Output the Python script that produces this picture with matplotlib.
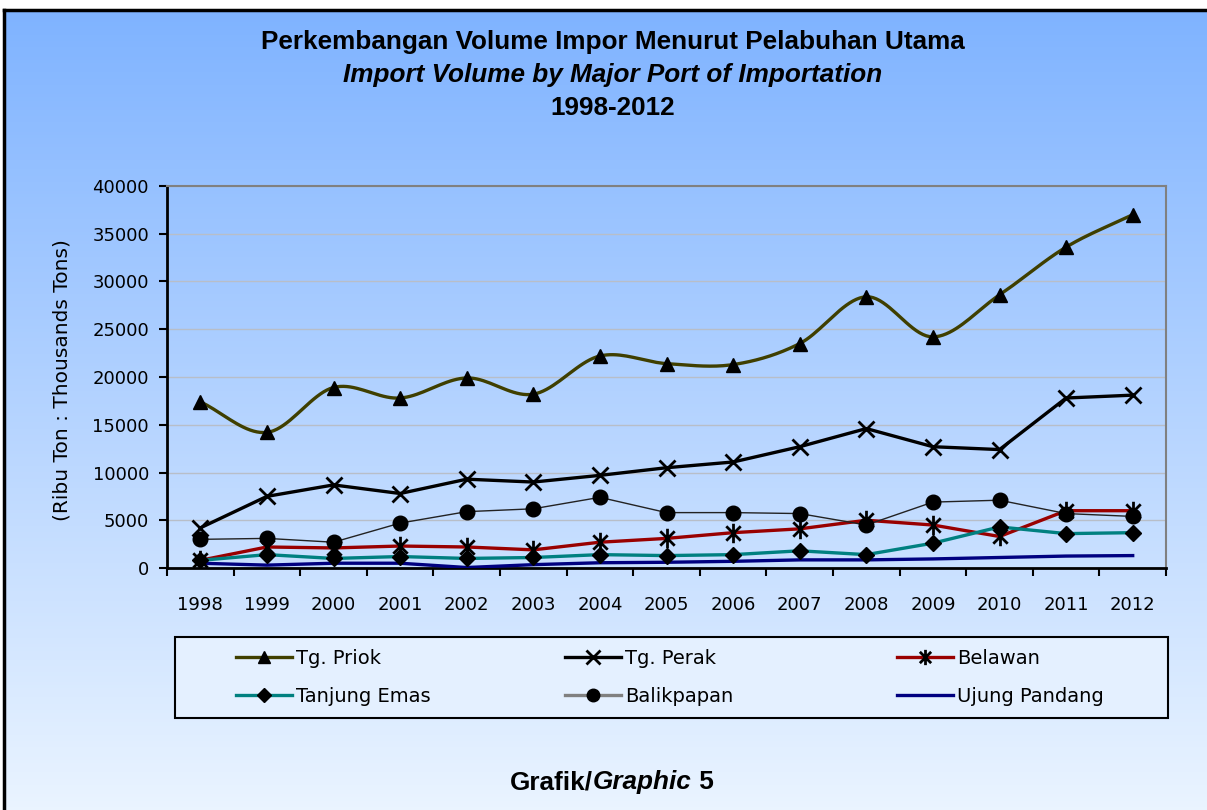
import numpy as np
import matplotlib
matplotlib.use("Agg")
import matplotlib.pyplot as plt
from matplotlib.path import Path
from matplotlib.lines import Line2D
from matplotlib.patches import Rectangle
from matplotlib.offsetbox import TextArea, HPacker, AnchoredOffsetbox
from matplotlib import font_manager

years = [1998, 1999, 2000, 2001, 2002, 2003, 2004, 2005, 2006, 2007, 2008, 2009, 2010, 2011, 2012]
tg_priok = [17400, 14200, 18900, 17800, 19900, 18200, 22200, 21400, 21300, 23500, 28400, 24200, 28600, 33600, 37000]
tg_perak = [4200, 7500, 8700, 7800, 9300, 9000, 9700, 10500, 11100, 12700, 14600, 12700, 12400, 17800, 18100]
belawan = [800, 2200, 2100, 2300, 2200, 1900, 2700, 3100, 3700, 4100, 5000, 4500, 3300, 6000, 6000]
tanjung_emas = [800, 1400, 1000, 1200, 1000, 1100, 1400, 1300, 1400, 1800, 1400, 2600, 4300, 3600, 3700]
balikpapan = [3000, 3100, 2700, 4700, 5900, 6200, 7400, 5800, 5800, 5700, 4500, 6900, 7100, 5700, 5400]
ujung_pandang = [500, 300, 500, 500, 50, 350, 550, 600, 700, 850, 850, 950, 1100, 1250, 1300]
y_ticks = [0, 5000, 10000, 15000, 20000, 25000, 30000, 35000, 40000]

avail = {f.name for f in font_manager.fontManager.ttflist}
narrow = "Liberation Sans Narrow" if "Liberation Sans Narrow" in avail else "Liberation Sans"
body = "DejaVu Sans"

W, H = 1207, 810
fig = plt.figure(figsize=(W / 100, H / 100), dpi=100, facecolor="white")

# background gradient panel
bg = fig.add_axes([4 / W, 0, 1 - 4 / W, 1 - 10 / H])
grad = np.linspace(0, 1, 256).reshape(-1, 1)
top = np.array([0x7f, 0xb3, 0xff]) / 255
bot = np.array([0xea, 0xf4, 0xff]) / 255
img = top[None, None, :] * (1 - grad[:, :, None]) + bot[None, None, :] * grad[:, :, None]
bg.imshow(img, aspect="auto", extent=[0, 1, 0, 1], origin="upper")
bg.set_xlim(0, 1); bg.set_ylim(0, 1)
bg.set_xticks([]); bg.set_yticks([])
for s in ["left", "top"]:
    bg.spines[s].set_linewidth(2.5)
    bg.spines[s].set_color("black")
for s in ["right", "bottom"]:
    bg.spines[s].set_visible(False)
bg.set_zorder(0)

ax = fig.add_axes([167 / W, 1 - 568 / H, (1166 - 167) / W, (568 - 186) / H])
ax.set_facecolor("none")
ax.set_zorder(1)
x = np.arange(len(years))


def catmull(xs, ys, n=20):
    xs = np.asarray(xs, float); ys = np.asarray(ys, float)
    px = np.concatenate([[2 * xs[0] - xs[1]], xs, [2 * xs[-1] - xs[-2]]])
    py = np.concatenate([[2 * ys[0] - ys[1]], ys, [2 * ys[-1] - ys[-2]]])
    ox, oy = [], []
    t = np.linspace(0, 1, n, endpoint=False)
    for i in range(1, len(px) - 2):
        for arr, out in ((px, ox), (py, oy)):
            p0, p1, p2, p3 = arr[i - 1], arr[i], arr[i + 1], arr[i + 2]
            out.extend(0.5 * ((2 * p1) + (-p0 + p2) * t + (2 * p0 - 5 * p1 + 4 * p2 - p3) * t ** 2
                               + (-p0 + 3 * p1 - 3 * p2 + p3) * t ** 3))
    ox.append(xs[-1]); oy.append(ys[-1])
    return np.array(ox), np.array(oy)


ast = Path([(-1, -1), (1, 1), (-1, 1), (1, -1), (0, -1.35), (0, 1.35)],
           [Path.MOVETO, Path.LINETO, Path.MOVETO, Path.LINETO, Path.MOVETO, Path.LINETO])

c_priok = "#3f3f00"
sx, sy = catmull(x, tg_priok)
ax.plot(sx, sy, color=c_priok, lw=2.4, zorder=3)
ax.plot(x, tg_priok, ls="none", marker="^", ms=9.5, color="black", zorder=4)
ax.plot(x, tg_perak, color="black", lw=2.4, marker="x", ms=12, mew=2, zorder=4)
ax.plot(x, belawan, color="#990000", lw=2.4, marker=ast, ms=14, mew=2, mec="black", zorder=4)
ax.plot(x, tanjung_emas, color="#008080", lw=2.4, marker="D", ms=8, mfc="black", mec="black", zorder=4)
ax.plot(x, balikpapan, color="#222222", lw=1.0, marker="o", ms=10.5, mfc="black", mec="black", zorder=4)
ax.plot(x, ujung_pandang, color="#000080", lw=2.4, zorder=3)

ax.set_xlim(-0.5, len(years) - 0.5)
ax.set_ylim(0, 40000)
ax.set_yticks(y_ticks)
ax.set_yticklabels([str(v) for v in y_ticks], fontsize=13, family=body)
ax.set_xticks(np.arange(len(years) + 1) - 0.5, minor=False)
ax.set_xticklabels([])
ax.set_xticks(x, minor=True)
ax.set_xticklabels([str(y) for y in years], minor=True, fontsize=13, family=body)
ax.tick_params(axis="x", which="major", length=6, width=1.5, direction="out")
ax.tick_params(axis="x", which="minor", length=0, pad=20)
ax.tick_params(axis="y", length=6, width=1.5, direction="out", pad=7)
ax.grid(axis="y", color="#b8bec8", lw=1, zorder=0)
ax.set_axisbelow(True)
for s in ["left", "bottom"]:
    ax.spines[s].set_linewidth(2)
    ax.spines[s].set_color("black")
for s in ["top", "right"]:
    ax.spines[s].set_linewidth(1.5)
    ax.spines[s].set_color("#808080")
fig.text(62 / W, 1 - 380 / H, "(Ribu Ton : Thousands Tons)", rotation=90, ha="center", va="center",
         fontsize=14.5, family=body)

fig.text(613 / W, 1 - 42 / H, "Perkembangan Volume Impor Menurut Pelabuhan Utama", ha="center", va="center",
         fontsize=18.8, fontweight="bold", family=narrow)
fig.text(613 / W, 1 - 75 / H, "Import Volume by Major Port of Importation", ha="center", va="center",
         fontsize=18.8, fontweight="bold", style="italic", family=narrow)
fig.text(613 / W, 1 - 108 / H, "1998-2012", ha="center", va="center",
         fontsize=18.8, fontweight="bold", family=narrow)

tp = dict(fontsize=18.8, fontweight="bold", family=narrow)
parts = [TextArea("Grafik/", textprops=tp),
         TextArea("Graphic", textprops=dict(style="italic", **tp)),
         TextArea(" 5", textprops=tp)]
pack = HPacker(children=parts, align="baseline", pad=0, sep=0)
ab = AnchoredOffsetbox(loc="center", child=pack, frameon=False, pad=0, borderpad=0,
                       bbox_to_anchor=(612 / W, 1 - 782 / H), bbox_transform=fig.transFigure)
fig.add_artist(ab)

# legend box
fig.add_artist(Rectangle((175 / W, 1 - 718 / H), (1168 - 175) / W, (718 - 637) / H,
                         transform=fig.transFigure, facecolor="#e4f0ff", edgecolor="black", lw=1.5, zorder=4))
h_priok = Line2D([], [], color=c_priok, lw=2.4, marker="^", ms=8, mfc="black", mec="black")
h_perak = Line2D([], [], color="black", lw=2.4, marker="x", ms=10, mew=2)
h_bel = Line2D([], [], color="#990000", lw=2.4, marker=ast, ms=11, mew=2, mec="black")
h_emas = Line2D([], [], color="#008080", lw=2.4, marker="D", ms=7, mfc="black", mec="black")
h_bal = Line2D([], [], color="#808080", lw=2.4, marker="o", ms=9, mfc="black", mec="black")
h_up = Line2D([], [], color="#000080", lw=2.4)
cols = [([h_priok, h_emas], ["Tg. Priok", "Tanjung Emas"], 236),
        ([h_perak, h_bal], ["Tg. Perak", "Balikpapan"], 565),
        ([h_bel, h_up], ["Belawan", "Ujung Pandang"], 897)]
for hs, ls, xpx in cols:
    lg = fig.legend(hs, ls, loc="center left", bbox_to_anchor=(xpx / W, 1 - 677.5 / H),
                    frameon=False, prop=dict(family=body, size=14), handlelength=2.9,
                    handletextpad=0.2, borderpad=0, borderaxespad=0, labelspacing=0.95)
    lg.set_zorder(5)

fig.savefig("out.png", dpi=100, facecolor=fig.get_facecolor())
